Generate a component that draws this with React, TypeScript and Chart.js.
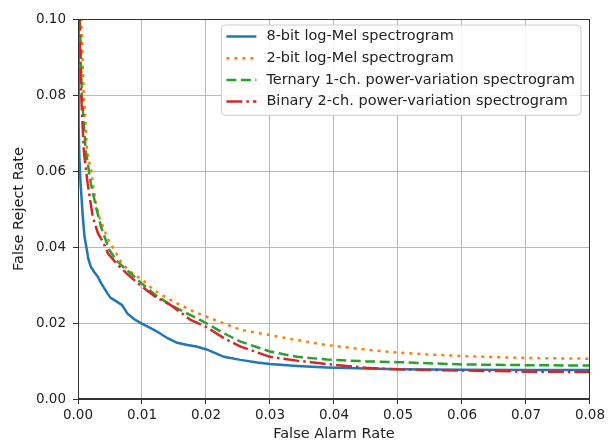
import React, { useEffect, useRef } from "react";
import { Chart, registerables } from "chart.js";

Chart.register(...registerables);

const seriesLabels = [
  "8-bit log-Mel spectrogram",
  "2-bit log-Mel spectrogram",
  "Ternary 1-ch. power-variation spectrogram",
  "Binary 2-ch. power-variation spectrogram",
];
const seriesColors = ["#1f77b4", "#ff7f0e", "#2ca02c", "#d62728"];
const seriesDashes: number[][] = [[], [3, 5], [10, 4.5], [16, 4, 2.5, 4]];

const xTickLabels = ["0.00", "0.01", "0.02", "0.03", "0.04", "0.05", "0.06", "0.07", "0.08"];
const yTickLabels = ["0.00", "0.02", "0.04", "0.06", "0.08", "0.10"];

const far8bit = [0.0, 0.00005, 0.0001, 0.00015, 0.0002, 0.0004, 0.00075, 0.001, 0.0013, 0.0016, 0.002, 0.0025, 0.0031, 0.0036, 0.0041, 0.0046, 0.0051, 0.006, 0.0069, 0.0077, 0.0088, 0.0099, 0.0112, 0.0124, 0.014, 0.0155, 0.0171, 0.0185, 0.02, 0.021, 0.0228, 0.0254, 0.028, 0.03, 0.0342, 0.0389, 0.045, 0.05, 0.06, 0.07, 0.08];
const frr8bit = [0.115, 0.1, 0.085, 0.072, 0.064, 0.0568, 0.048, 0.043, 0.04, 0.037, 0.0348, 0.0335, 0.0322, 0.0305, 0.0292, 0.0278, 0.0266, 0.0257, 0.0247, 0.0225, 0.021, 0.0199, 0.0188, 0.0177, 0.016, 0.0148, 0.0142, 0.0138, 0.0131, 0.0124, 0.0111, 0.0103, 0.0096, 0.0092, 0.0087, 0.0083, 0.008, 0.0078, 0.0077, 0.0076, 0.0076];

const far2bit = [0.0002, 0.0005, 0.0007, 0.0009, 0.0012, 0.0014, 0.0018, 0.0021, 0.0023, 0.0028, 0.0033, 0.0039, 0.0047, 0.0057, 0.0067, 0.0078, 0.009, 0.0101, 0.012, 0.0145, 0.0176, 0.02, 0.0228, 0.0254, 0.03, 0.0342, 0.0389, 0.045, 0.05, 0.055, 0.06, 0.065, 0.07, 0.075, 0.08];
const frr2bit = [0.115, 0.1, 0.09, 0.08, 0.072, 0.0655, 0.062, 0.06, 0.0568, 0.0515, 0.048, 0.0453, 0.042, 0.0392, 0.0362, 0.034, 0.0325, 0.0313, 0.0285, 0.026, 0.0234, 0.0217, 0.0199, 0.0182, 0.0168, 0.0155, 0.0142, 0.013, 0.0122, 0.0117, 0.0113, 0.011, 0.0108, 0.0107, 0.0106];

const farTernary = [0.0001, 0.0003, 0.0006, 0.0012, 0.002, 0.0028, 0.0036, 0.0049, 0.006, 0.0073, 0.0086, 0.0099, 0.012, 0.0145, 0.0176, 0.02, 0.0228, 0.0254, 0.03, 0.0342, 0.0389, 0.045, 0.05, 0.06, 0.07, 0.08];
const frrTernary = [0.115, 0.1, 0.08, 0.0655, 0.0568, 0.0506, 0.0453, 0.0392, 0.0365, 0.0344, 0.0325, 0.0305, 0.0275, 0.0247, 0.0221, 0.02, 0.0173, 0.0151, 0.0125, 0.0111, 0.0104, 0.0099, 0.0097, 0.0091, 0.0089, 0.0088];

const farBinary = [0.0, 0.0002, 0.0005, 0.0009, 0.0015, 0.0023, 0.0031, 0.004, 0.0047, 0.0062, 0.0075, 0.0093, 0.0099, 0.012, 0.0145, 0.0176, 0.02, 0.0228, 0.0254, 0.03, 0.0342, 0.0389, 0.045, 0.05, 0.06, 0.07, 0.08];
const frrBinary = [0.115, 0.1, 0.08, 0.0655, 0.0568, 0.048, 0.0437, 0.041, 0.0383, 0.0353, 0.0332, 0.0305, 0.0297, 0.027, 0.0247, 0.0208, 0.019, 0.016, 0.0138, 0.0111, 0.0101, 0.0092, 0.0082, 0.0078, 0.0075, 0.0072, 0.0071];

const seriesX = [far8bit, far2bit, farTernary, farBinary];
const seriesY = [frr8bit, frr2bit, frrTernary, frrBinary];

const FONT = "'DejaVu Sans', sans-serif";
const TEXT = "#222";

const framePlugin = {
  id: "mplFrame",
  afterDraw(chart: any) {
    const ctx = chart.ctx;
    const a = chart.chartArea;
    ctx.save();
    ctx.strokeStyle = "#333";
    ctx.lineWidth = 1;
    ctx.strokeRect(Math.round(a.left) + 0.5, Math.round(a.top) + 0.5, Math.round(a.right - a.left) - 1, Math.round(a.bottom - a.top) - 1);

    // legend
    ctx.font = "14.5px " + FONT;
    const ds = chart.data.datasets;
    let maxW = 0;
    ds.forEach((d: any) => {
      maxW = Math.max(maxW, ctx.measureText(d.label).width);
    });
    const right = a.right - 9;
    const top = a.top + 6;
    const w = maxW + 51;
    const left = right - w;
    const rowH = 21.7;
    const h = rowH * ds.length + 3.5;
    const r = 4;
    ctx.beginPath();
    ctx.moveTo(left + r, top);
    ctx.lineTo(right - r, top);
    ctx.quadraticCurveTo(right, top, right, top + r);
    ctx.lineTo(right, top + h - r);
    ctx.quadraticCurveTo(right, top + h, right - r, top + h);
    ctx.lineTo(left + r, top + h);
    ctx.quadraticCurveTo(left, top + h, left, top + h - r);
    ctx.lineTo(left, top + r);
    ctx.quadraticCurveTo(left, top, left + r, top);
    ctx.closePath();
    ctx.fillStyle = "rgba(255,255,255,0.85)";
    ctx.fill();
    ctx.strokeStyle = "#cccccc";
    ctx.lineWidth = 1;
    ctx.stroke();

    ds.forEach((d: any, i: number) => {
      const cy = top + 11.5 + i * rowH;
      ctx.save();
      ctx.strokeStyle = d.borderColor;
      ctx.lineWidth = d.borderWidth;
      ctx.lineCap = "butt";
      ctx.setLineDash(d.borderDash || []);
      ctx.beginPath();
      ctx.moveTo(left + 5, cy);
      ctx.lineTo(left + 35, cy);
      ctx.stroke();
      ctx.restore();
      ctx.fillStyle = TEXT;
      ctx.textBaseline = "middle";
      ctx.textAlign = "left";
      ctx.fillText(d.label, left + 45, cy);
    });
    ctx.restore();
  },
};

export default function App() {
  const ref = useRef<HTMLCanvasElement | null>(null);

  useEffect(() => {
    if (!ref.current) return;
    const datasets = seriesLabels.map((label, i) => ({
      label,
      data: seriesX[i].map((x, j) => ({ x, y: seriesY[i][j] })),
      borderColor: seriesColors[i],
      backgroundColor: seriesColors[i],
      borderWidth: 2.5,
      borderDash: seriesDashes[i],
      borderCapStyle: "butt" as const,
      pointRadius: 0,
      tension: 0,
      fill: false,
      order: 3 - i,
    }));
    const chart = new Chart(ref.current, {
      type: "line",
      data: { datasets },
      plugins: [framePlugin],
      options: {
        animation: false,
        responsive: false,
        events: [],
        layout: { padding: { left: 0, top: 19, right: 16, bottom: 0 } },
        plugins: { legend: { display: false }, tooltip: { enabled: false } },
        scales: {
          x: {
            type: "linear",
            min: 0,
            max: 0.08,
            afterFit: (s: any) => {
              s.height = 44;
            },
            afterBuildTicks: (s: any) => {
              s.ticks = xTickLabels.map((t) => ({ value: parseFloat(t) }));
            },
            ticks: {
              callback: (v: any) => Number(v).toFixed(2),
              font: { family: FONT, size: 13.5 },
              color: TEXT,
              padding: 3,
              maxRotation: 0,
              autoSkip: false,
            },
            grid: { color: "#b8b8b8", lineWidth: 1, tickLength: 5, tickColor: "#333" },
            border: { display: true, color: "#333", width: 1 },
            title: {
              display: true,
              text: "False Alarm Rate",
              font: { family: FONT, size: 14.5 },
              color: TEXT,
              padding: { top: 0, bottom: 0 },
            },
          },
          y: {
            type: "linear",
            min: 0,
            max: 0.1,
            afterFit: (s: any) => {
              s.width = 78;
            },
            afterBuildTicks: (s: any) => {
              s.ticks = yTickLabels.map((t) => ({ value: parseFloat(t) }));
            },
            ticks: {
              callback: (v: any) => Number(v).toFixed(2),
              font: { family: FONT, size: 13.5 },
              color: TEXT,
              padding: 7,
              autoSkip: false,
            },
            grid: { color: "#b8b8b8", lineWidth: 1, tickLength: 5, tickColor: "#333" },
            border: { display: true, color: "#333", width: 1 },
            title: {
              display: true,
              text: "False Reject Rate",
              font: { family: FONT, size: 14.5 },
              color: TEXT,
              padding: { top: 11, bottom: 0 },
            },
          },
        },
      },
    });
    return () => chart.destroy();
  }, []);

  return (
    <div style={{ position: "fixed", left: 0, top: 0, width: 608, height: 443, background: "#fff" }}>
      <canvas ref={ref} width={608} height={443} />
    </div>
  );
}
